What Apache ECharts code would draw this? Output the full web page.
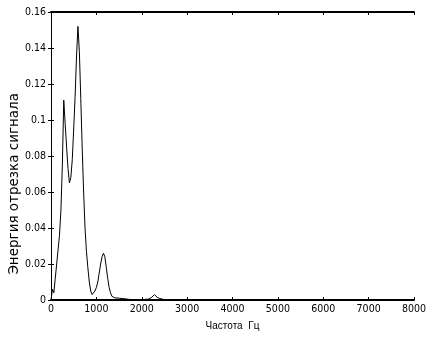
<!DOCTYPE html>
<html>
<head>
<meta charset="utf-8">
<script src="https://cdn.jsdelivr.net/npm/echarts@6/dist/echarts.min.js"></script>
<style>
html,body{margin:0;padding:0;background:#fff;}
#c{width:436px;height:337px;}
</style>
</head>
<body>
<div id="c"></div>
<script>
// Frequency (Hz) and signal-segment energy
const freqHz = [0, 31, 62, 94, 125, 156, 187, 219, 250, 281, 312, 344, 375, 406, 437, 469, 500, 531, 562, 594, 625, 656, 687, 719, 750, 781, 812, 844, 875, 906, 937, 969, 1000, 1031, 1062, 1094, 1125, 1156, 1187, 1219, 1250, 1281, 1312, 1344, 1375, 1406, 1500, 1600, 1700, 1800, 2000, 2150, 2220, 2280, 2340, 2400, 2500, 2600, 8000];
const energy = [0.0, 0.006, 0.004, 0.012, 0.020, 0.028, 0.036, 0.050, 0.075, 0.111, 0.098, 0.085, 0.073, 0.065, 0.068, 0.078, 0.095, 0.113, 0.135, 0.152, 0.138, 0.112, 0.085, 0.060, 0.040, 0.027, 0.018, 0.010, 0.005, 0.003, 0.004, 0.005, 0.007, 0.010, 0.015, 0.020, 0.024, 0.026, 0.024, 0.018, 0.012, 0.007, 0.004, 0.002, 0.0015, 0.0012, 0.001, 0.0008, 0.0004, 0.0002, 0.0002, 0.0005, 0.0015, 0.003, 0.0015, 0.0008, 0.0002, 0, 0];
const xTicks = [0, 1000, 2000, 3000, 4000, 5000, 6000, 7000, 8000];
const yTicks = [0, 0.02, 0.04, 0.06, 0.08, 0.1, 0.12, 0.14, 0.16];
const xTitle = 'Частота  Гц';
const yTitle = 'Энергия отрезка сигнала';

const tickFont = "'Liberation Sans Narrow','DejaVu Sans Condensed','Liberation Sans',sans-serif";
const chart = echarts.init(document.getElementById('c'), null, {renderer: 'canvas'});
const seriesData = freqHz.map((f, i) => [f, energy[i]]);

const baseX = {
  type: 'value', min: xTicks[0], max: xTicks[xTicks.length - 1], interval: 1000,
  splitLine: {show: false},
  axisTick: {show: true, inside: true, length: 3, lineStyle: {color: '#000', width: 1}}
};
const baseY = {
  type: 'value', min: yTicks[0], max: yTicks[yTicks.length - 1], interval: 0.02,
  splitLine: {show: false},
  axisTick: {show: true, inside: true, length: 3, lineStyle: {color: '#000', width: 1}}
};

chart.setOption({
  animation: false,
  backgroundColor: '#fff',
  grid: {left: 51, top: 12, width: 363, height: 288, containLabel: false, outerBoundsMode: 'none'},
  xAxis: [
    Object.assign({}, baseX, {
      position: 'bottom',
      axisLine: {show: true, onZero: false, lineStyle: {color: '#000', width: 2}},
      axisLabel: {color: '#000', fontSize: 10.5, fontFamily: tickFont, margin: 4,
        formatter: v => String(Math.round(v))},
      name: xTitle, nameLocation: 'middle', nameGap: 21,
      nameTextStyle: {color: '#000', fontSize: 10, fontFamily: "'Liberation Sans',sans-serif"}
    }),
    Object.assign({}, baseX, {
      position: 'top',
      axisLine: {show: true, onZero: false, lineStyle: {color: '#000', width: 2}},
      axisLabel: {show: false}
    })
  ],
  yAxis: [
    Object.assign({}, baseY, {
      position: 'left',
      axisLine: {show: true, onZero: false, lineStyle: {color: '#000', width: 1}},
      axisLabel: {color: '#000', fontSize: 10.5, fontFamily: tickFont, margin: 5,
        formatter: v => String(parseFloat(v.toFixed(2)))}
    }),
    Object.assign({}, baseY, {
      position: 'right',
      axisLine: {show: false},
      axisLabel: {show: false}
    })
  ],
  graphic: [{
    type: 'text',
    left: 7, top: 93,
    rotation: Math.PI / 2,
    style: {text: yTitle, fill: '#000', fontSize: 13.5, fontFamily: "'DejaVu Sans',sans-serif"}
  }],
  series: [{
    type: 'line',
    xAxisIndex: 0, yAxisIndex: 0,
    data: seriesData,
    showSymbol: false,
    lineStyle: {color: '#000', width: 1},
    silent: true
  }]
});
</script>
</body>
</html>
